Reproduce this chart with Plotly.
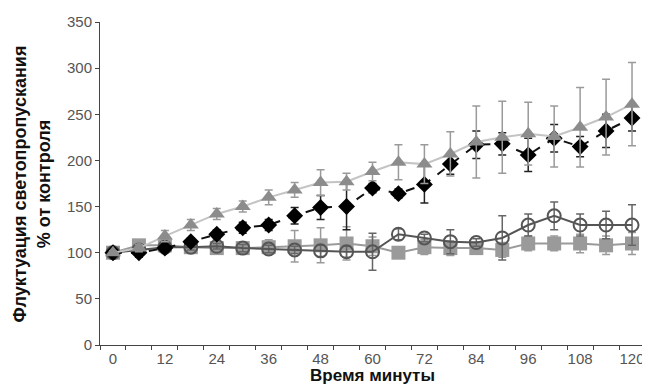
import plotly.graph_objects as go

time_min = [0, 6, 12, 18, 24, 30, 36, 42, 48, 54, 60, 66, 72, 78, 84, 90, 96, 102, 108, 114, 120]
x_tick_labels = ["0", "12", "24", "36", "48", "60", "72", "84", "96", "108", "120"]
x_tick_vals = [0, 12, 24, 36, 48, 60, 72, 84, 96, 108, 120]

triangle_vals = [100, 105, 118, 130, 142, 150, 160, 168, 176, 177, 188, 198, 196, 207, 220, 225, 229, 226, 236, 247, 261]
triangle_err = [2, 4, 6, 6, 6, 6, 8, 8, 14, 9, 10, 19, 21, 24, 39, 39, 34, 33, 43, 41, 45]

diamond_vals = [100, 100, 105, 112, 120, 127, 130, 140, 149, 150, 170, 164, 174, 196, 217, 218, 206, 224, 215, 232, 246]
diamond_err = [2, 5, 4, 4, 5, 6, 6, 9, 13, 25, 5, 5, 20, 11, 15, 12, 18, 15, 11, 18, 14]

circle_vals = [100, 103, 106, 106, 107, 105, 104, 103, 102, 101, 101, 120, 116, 112, 111, 116, 130, 140, 130, 130, 130]
circle_err = [2, 3, 3, 3, 3, 4, 4, 4, 6, 6, 20, 6, 4, 13, 4, 24, 12, 15, 12, 15, 22]

square_vals = [100, 108, 108, 106, 105, 105, 106, 107, 108, 110, 107, 100, 106, 105, 105, 103, 110, 110, 110, 108, 110]
square_err = [2, 5, 5, 5, 5, 6, 8, 17, 19, 18, 10, 6, 8, 8, 6, 8, 8, 8, 10, 10, 12]

fig = go.Figure()

fig.add_trace(go.Scatter(
    x=time_min, y=square_vals, mode="lines+markers",
    line=dict(color="#9a9a9a", width=2),
    marker=dict(symbol="square", size=14, color="#9a9a9a"),
    error_y=dict(type="data", array=square_err, color="#9a9a9a", thickness=1.5, width=4),
    showlegend=False))

fig.add_trace(go.Scatter(
    x=time_min, y=circle_vals, mode="lines+markers",
    line=dict(color="#555555", width=2),
    marker=dict(symbol="circle-open", size=13, color="#555555", line=dict(width=2, color="#555555")),
    error_y=dict(type="data", array=circle_err, color="#666666", thickness=1.5, width=4),
    showlegend=False))

fig.add_trace(go.Scatter(
    x=time_min, y=diamond_vals, mode="lines+markers",
    line=dict(color="#111111", width=2, dash="dash"),
    marker=dict(symbol="diamond", size=13, color="#000000"),
    error_y=dict(type="data", array=diamond_err, color="#222222", thickness=1.5, width=4),
    showlegend=False))

fig.add_trace(go.Scatter(
    x=time_min, y=triangle_vals, mode="lines+markers",
    line=dict(color="#c4c4c4", width=2),
    marker=dict(symbol="triangle-up", size=14, color="#8c8c8c"),
    error_y=dict(type="data", array=triangle_err, color="#9a9a9a", thickness=1.5, width=4),
    showlegend=False))

fig.update_layout(
    width=642, height=377,
    margin=dict(l=92, r=5, t=14, b=40),
    paper_bgcolor="white", plot_bgcolor="white",
    font=dict(family="Liberation Sans, Arial, sans-serif", size=15, color="#555555"),
    xaxis=dict(
        range=[-3, 123], tickvals=x_tick_vals, ticktext=x_tick_labels,
        ticks="", showgrid=False, zeroline=False,
        showline=True, linecolor="#444444", linewidth=1,
        minor=dict(tick0=-3, dtick=6, ticks="outside", ticklen=4, tickcolor="#444444", showgrid=False),
        tickfont=dict(size=15, color="#555555"),
        title=dict(text="<b>Время минуты</b>", font=dict(size=17, color="#111111"), standoff=0),
    ),
    yaxis=dict(
        range=[0, 350], dtick=50, ticks="outside", ticklen=4, tickcolor="#444444",
        showgrid=False, zeroline=False,
        showline=True, linecolor="#444444", linewidth=1,
        tickfont=dict(size=15, color="#555555"),
    ),
    annotations=[dict(
        text="<b>Флуктуация светопропускания<br>% от контроля</b>",
        xref="paper", yref="paper", x=-0.125, y=0.5,
        xanchor="center", yanchor="middle", textangle=-90, showarrow=False,
        font=dict(size=18, color="#111111"),
    )],
)

fig.write_html("out.html")
